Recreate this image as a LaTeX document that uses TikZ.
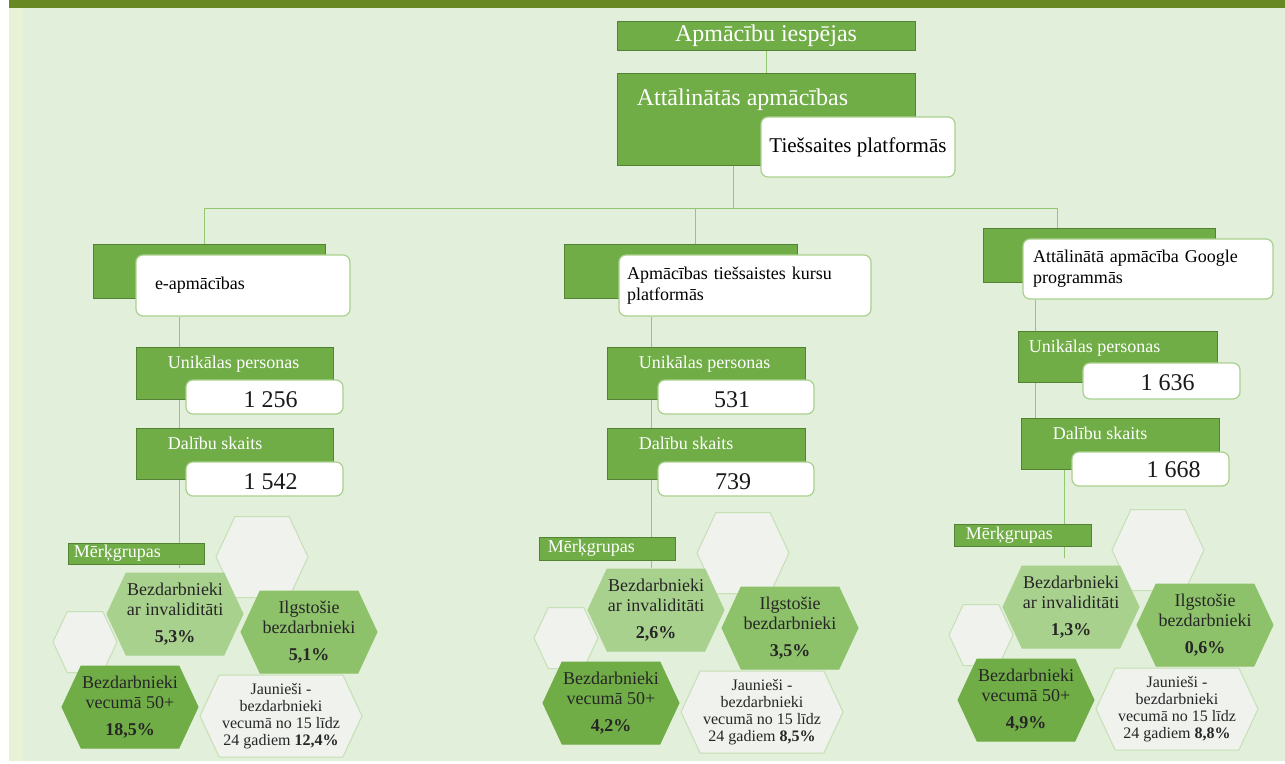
\documentclass[tikz,border=0pt]{standalone}
\usepackage{fontspec}
\setmainfont{Liberation Serif}
\usetikzlibrary{positioning,shapes.symbols,backgrounds}

\definecolor{bandgreen}{RGB}{104,136,35}
\definecolor{paper}{RGB}{226,239,218}
\definecolor{paperedge}{RGB}{233,242,214}
\definecolor{boxgreen}{RGB}{112,173,71}
\definecolor{boxedge}{RGB}{84,130,53}
\definecolor{lightgreen}{RGB}{169,209,142}
\definecolor{midgreen}{RGB}{141,194,106}
\definecolor{palegreen}{RGB}{197,224,180}
\definecolor{hexgray}{RGB}{240,242,237}
\definecolor{linegreen}{RGB}{146,200,112}

\newcommand{\pts}[2]{\fontsize{#1}{#2}\selectfont}

\tikzset{
  grnbox/.style={fill=boxgreen, draw=boxedge, line width=0.8pt, inner sep=0pt},
  whtbox/.style={fill=white, draw=lightgreen, line width=1.2pt, rounded corners=7pt, inner sep=0pt},
  numbox/.style={whtbox, minimum width=157pt, minimum height=34pt},
  wtxt/.style={text=white, inner sep=0pt, font=\pts{18}{20}},
  numtxt/.style={inner sep=0pt, font=\pts{24}{26}, text=black!90},
  conn/.style={draw=linegreen, line width=1pt},
  hexa/.style={signal, signal to=east and west, signal pointer angle=130, inner sep=0pt,
    align=center, font=\pts{18}{20}, line width=1pt, text=black!85,
    minimum width=136pt, minimum height=82pt},
  blankhex/.style={hexa, fill=hexgray, draw=palegreen},
}

% one group of hexagons: name, shift x, shift y, four shares
\newcommand{\cluster}[7]{%
  \begin{scope}[shift={(#2,#3)}]
    \node[blankhex, minimum width=92pt, minimum height=81pt] (top#1) at (262,557) {};
    \node[blankhex, minimum width=64pt, minimum height=61pt] (sml#1) at (85,642) {};
    \node[hexa, fill=lightgreen, draw=lightgreen] (inv#1) at (175,614)
      {Bezdarbnieki\\ar invaliditāti\\[7pt]\textbf{#4\%}};
    \node[hexa, fill=midgreen, draw=midgreen] (ilg#1) at (309,632)
      {Ilgstošie\\bezdarbnieki\\[7pt]\textbf{#5\%}};
    \node[hexa, fill=boxgreen, draw=boxgreen] (old#1) at (130,707)
      {Bezdarbnieki\\vecumā 50+\\[7pt]\textbf{#6\%}};
    \node[blankhex, minimum width=162pt, font=\pts{16}{17}] (yng#1) at (281,716)
      {Jaunieši -\\bezdarbnieki\\vecumā no 15 līdz\\24 gadiem \textbf{#7\%}};
  \end{scope}}

\begin{document}
\begin{tikzpicture}[x=1pt,y=-1pt]
  \useasboundingbox (0,0) rectangle (1285,763);
  \begin{scope}[on background layer]
    \fill[paper] (9,8) rectangle (1285,761);
    \fill[paperedge] (9,8) rectangle (23,761);
    \fill[bandgreen] (9,0) rectangle (1285,8);
  \end{scope}

  % top
  \node[grnbox, minimum width=298pt, minimum height=29pt, text=white, font=\pts{24}{26}] (root) at (766,35.5) {Apmācību iespējas};
  \node[grnbox, minimum width=298pt, minimum height=92pt] (att) at (766,119) {};
  \node[wtxt, font=\pts{24}{26}, anchor=west] (atttxt) at ([xshift=20pt,yshift=19pt]att.west) {Attālinātās apmācības};
  \node[whtbox, minimum width=194pt, minimum height=60pt, font=\pts{21}{24}] (tiess) at (858,147) {Tiešsaites platformās};

  % e-apmacibas
  \node[grnbox, minimum width=232pt, minimum height=54pt] (gL) at (209,271) {};
  \node[whtbox, minimum width=214pt, minimum height=61pt, text width=176pt, align=left, font=\pts{18}{21}] (eL) at (243,285.5) {e-apmācības};
  \node[grnbox, minimum width=197pt, minimum height=52pt] (uL) at (234.5,373) {};
  \node[wtxt, below right=9pt and 32pt of uL.north west] (uLt) {Unikālas personas};
  \node[numbox] (nL) at (264.5,397) {};
  \node[numtxt] (nLt) at ([xshift=6pt,yshift=-3pt]nL.center) {1 256};
  \node[grnbox, minimum width=197pt, minimum height=51pt] (dL) at (234.5,453.5) {};
  \node[wtxt, below right=9pt and 32pt of dL.north west] (dLt) {Dalību skaits};
  \node[numbox] (mL) at (264.5,479) {};
  \node[numtxt] (mLt) at ([xshift=6pt,yshift=-3pt]mL.center) {1 542};
  \node[grnbox, minimum width=136pt, minimum height=21pt] (kL) at (136,553.5) {};
  \node[wtxt, right=6pt of kL.west] (kLt) {Mērķgrupas};

  % kursu platformas
  \node[grnbox, minimum width=233pt, minimum height=54pt] (gM) at (680.5,271) {};
  \node[whtbox, minimum width=252pt, minimum height=61pt, text width=236pt, align=left, font=\pts{18}{21}] (eM) at (745,285.5) {Apmācības tiešsaistes kursu\\platformās};
  \node[grnbox, minimum width=198pt, minimum height=52pt] (uM) at (706,373) {};
  \node[wtxt, below right=9pt and 32pt of uM.north west] (uMt) {Unikālas personas};
  \node[numbox, minimum width=156pt] (nM) at (736,397) {};
  \node[numtxt] (nMt) at ([xshift=-4pt,yshift=-3pt]nM.center) {531};
  \node[grnbox, minimum width=198pt, minimum height=51pt] (dM) at (706,453.5) {};
  \node[wtxt, below right=9pt and 32pt of dM.north west] (dMt) {Dalību skaits};
  \node[numbox, minimum width=156pt] (mM) at (736,479) {};
  \node[numtxt] (mMt) at ([xshift=-3pt,yshift=-3pt]mM.center) {739};
  \node[grnbox, minimum width=136pt, minimum height=23pt] (kM) at (607,548.5) {};
  \node[wtxt, right=9pt of kM.west] (kMt) {Mērķgrupas};

  % Google
  \node[grnbox, minimum width=232pt, minimum height=54pt] (gR) at (1099,255) {};
  \node[whtbox, minimum width=250pt, minimum height=60pt, text width=230pt, align=left, font=\pts{18}{21}] (eR) at (1148,269) {Attālinātā apmācība Google\\programmās};
  \node[grnbox, minimum width=199pt, minimum height=51pt] (uR) at (1117.5,356.5) {};
  \node[wtxt, below right=9pt and 11pt of uR.north west] (uRt) {Unikālas personas};
  \node[numbox, minimum height=36pt] (nR) at (1161.5,381) {};
  \node[numtxt] (nRt) at ([xshift=6pt,yshift=-2pt]nR.center) {1 636};
  \node[grnbox, minimum width=198pt, minimum height=51pt] (dR) at (1120,443.5) {};
  \node[wtxt, below right=9pt and 32pt of dR.north west] (dRt) {Dalību skaits};
  \node[numbox] (mR) at (1150.5,469) {};
  \node[numtxt] (mRt) at ([xshift=23pt,yshift=-1pt]mR.center) {1 668};
  \node[grnbox, minimum width=137pt, minimum height=22pt] (kR) at (1022.5,535) {};
  \node[wtxt, right=12pt of kR.west] (kRt) {Mērķgrupas};

  % target groups
  \cluster{L}{0}{0}{5,3}{5,1}{18,5}{12,4}
  \cluster{M}{481}{-4}{2,6}{3,5}{4,2}{8,5}
  \cluster{R}{896}{-7}{1,3}{0,6}{4,9}{8,8}

  \begin{scope}[on background layer]
    \draw[conn] (root) -- (att);
    \draw[conn] ([xshift=-33pt]att.south) -- ++(0,43) coordinate (bus);
    \draw[conn] ([xshift=-5pt]gL.north) |- (bus) -| ([xshift=-42pt]gR.north);
    \draw[conn] ([xshift=14.5pt]gM.north) |- (bus);
    \draw[conn] ([xshift=-64pt]eL.south) -- ([xshift=43pt,yshift=-4pt]kL.south);
    \draw[conn] ([xshift=-94pt]eM.south) -- ([xshift=44pt,yshift=-8pt]kM.south);
    \draw[conn] ([xshift=-113pt]eR.south) -- ([xshift=-85pt]dR.north);
    \draw[conn] ([xshift=-56pt]dR.south) -- ([xshift=41.5pt,yshift=-12pt]kR.south);
  \end{scope}
\end{tikzpicture}
\end{document}
